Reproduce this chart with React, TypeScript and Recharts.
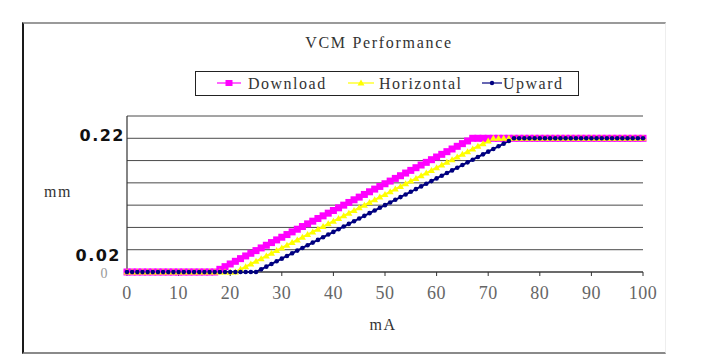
import React from "react";
import { LineChart, Line, XAxis, YAxis, CartesianGrid } from "recharts";

const mA = [
  0, 1, 2, 3, 4, 5, 6, 7, 8, 9, 10, 11, 12, 13, 14, 15, 16, 17, 18, 19, 20,
  21, 22, 23, 24, 25, 26, 27, 28, 29, 30, 31, 32, 33, 34, 35, 36, 37, 38, 39, 40,
  41, 42, 43, 44, 45, 46, 47, 48, 49, 50, 51, 52, 53, 54, 55, 56, 57, 58, 59, 60,
  61, 62, 63, 64, 65, 66, 67, 68, 69, 70, 71, 72, 73, 74, 75, 76, 77, 78, 79, 80,
  81, 82, 83, 84, 85, 86, 87, 88, 89, 90, 91, 92, 93, 94, 95, 96, 97, 98, 99, 100,
];

const download = [
  0, 0, 0, 0, 0, 0, 0, 0, 0, 0,
  0, 0, 0, 0, 0, 0, 0, 0,
  0.0044, 0.0088, 0.0132, 0.0176, 0.022, 0.0264, 0.0308, 0.0352, 0.0396, 0.044,
  0.0484, 0.0528, 0.0572, 0.0616, 0.066, 0.0704, 0.0748, 0.0792, 0.0836, 0.088,
  0.0924, 0.0968, 0.1012, 0.1056, 0.11, 0.1144, 0.1188, 0.1232, 0.1276, 0.132,
  0.1364, 0.1408, 0.1452, 0.1496, 0.154, 0.1584, 0.1628, 0.1672, 0.1716, 0.176,
  0.1804, 0.1848, 0.1892, 0.1936, 0.198, 0.2024, 0.2068, 0.2112, 0.2156, 0.22,
  0.22, 0.22, 0.22, 0.22, 0.22, 0.22, 0.22, 0.22, 0.22, 0.22,
  0.22, 0.22, 0.22, 0.22, 0.22, 0.22, 0.22, 0.22, 0.22, 0.22,
  0.22, 0.22, 0.22, 0.22, 0.22, 0.22, 0.22, 0.22, 0.22, 0.22,
  0.22, 0.22, 0.22,
];

const horizontal = [
  0, 0, 0, 0, 0, 0, 0, 0, 0, 0,
  0, 0, 0, 0, 0, 0, 0, 0, 0, 0,
  0, 0,
  0.0044, 0.0088, 0.0132, 0.0176, 0.022, 0.0264, 0.0308, 0.0352, 0.0396, 0.044,
  0.0484, 0.0528, 0.0572, 0.0616, 0.066, 0.0704, 0.0748, 0.0792, 0.0836, 0.088,
  0.0924, 0.0968, 0.1012, 0.1056, 0.11, 0.1144, 0.1188, 0.1232, 0.1276, 0.132,
  0.1364, 0.1408, 0.1452, 0.1496, 0.154, 0.1584, 0.1628, 0.1672, 0.1716, 0.176,
  0.1804, 0.1848, 0.1892, 0.1936, 0.198, 0.2024, 0.2068, 0.2112, 0.2156, 0.22,
  0.22, 0.22, 0.22, 0.22, 0.22, 0.22, 0.22, 0.22, 0.22, 0.22,
  0.22, 0.22, 0.22, 0.22, 0.22, 0.22, 0.22, 0.22, 0.22, 0.22,
  0.22, 0.22, 0.22, 0.22, 0.22, 0.22, 0.22, 0.22, 0.22,
];

const upward = [
  0, 0, 0, 0, 0, 0, 0, 0, 0, 0,
  0, 0, 0, 0, 0, 0, 0, 0, 0, 0,
  0, 0, 0, 0, 0, 0,
  0.0044, 0.0088, 0.0132, 0.0176, 0.022, 0.0264, 0.0308, 0.0352, 0.0396, 0.044,
  0.0484, 0.0528, 0.0572, 0.0616, 0.066, 0.0704, 0.0748, 0.0792, 0.0836, 0.088,
  0.0924, 0.0968, 0.1012, 0.1056, 0.11, 0.1144, 0.1188, 0.1232, 0.1276, 0.132,
  0.1364, 0.1408, 0.1452, 0.1496, 0.154, 0.1584, 0.1628, 0.1672, 0.1716, 0.176,
  0.1804, 0.1848, 0.1892, 0.1936, 0.198, 0.2024, 0.2068, 0.2112, 0.2156, 0.22,
  0.22, 0.22, 0.22, 0.22, 0.22, 0.22, 0.22, 0.22, 0.22, 0.22,
  0.22, 0.22, 0.22, 0.22, 0.22, 0.22, 0.22, 0.22, 0.22, 0.22,
  0.22, 0.22, 0.22, 0.22, 0.22,
];

const xTicks = [0, 10, 20, 30, 40, 50, 60, 70, 80, 90, 100];
const yTicks = [0, 0.03667, 0.07333, 0.11, 0.14667, 0.18333, 0.22];
const yTickLabels = ["0", "0.02", "", "", "", "", "0.22"];
const yMax = 0.25667;

const seriesNames = ["Download", "Horizontal", "Upward"];
const seriesColors = ["#ff00ff", "#ffff00", "#000080"];

const data = mA.map((x, i) => ({
  mA: x,
  download: download[i],
  horizontal: horizontal[i],
  upward: upward[i],
}));

const SERIF = "'Liberation Serif', 'DejaVu Serif', serif";

const SquareDot = (props: any) => {
  const { cx, cy } = props;
  if (cx == null || cy == null) return <g />;
  return <rect x={cx - 3.5} y={cy - 3.5} width={7} height={7} fill="#ff00ff" />;
};
const TriDot = (props: any) => {
  const { cx, cy } = props;
  if (cx == null || cy == null) return <g />;
  return (
    <polygon
      points={`${cx},${cy - 3.5} ${cx - 3.5},${cy + 2.5} ${cx + 3.5},${cy + 2.5}`}
      fill="#ffff00"
    />
  );
};
const CircleDot = (props: any) => {
  const { cx, cy } = props;
  if (cx == null || cy == null) return <g />;
  return <circle cx={cx} cy={cy} r={2.3} fill="#000080" />;
};

const XTick = (props: any) => {
  const { x, y, payload } = props;
  return (
    <text x={x} y={y} dy={21} textAnchor="middle" fontFamily={SERIF} fontSize={18} letterSpacing={0.5} fill="#666">
      {payload.value}
    </text>
  );
};

const YTick = (props: any) => {
  const { x, y, payload } = props;
  const i = yTicks.indexOf(payload.value);
  const label = yTickLabels[i];
  if (!label) return <g />;
  if (i === 0) {
    return (
      <text x={x - 23} y={y} dy={6} textAnchor="middle" fontFamily={SERIF} fontSize={14} fill="#999">
        {label}
      </text>
    );
  }
  const dy = i === 1 ? 5 : -3;
  const dx = i === 1 ? -6 : -2;
  return (
    <text x={x + dx} y={y + dy} dy={6} textAnchor="end" fontFamily="'DejaVu Sans', sans-serif" fontWeight="bold" fontSize={16} letterSpacing={1.5} fill="#111">
      {label}
    </text>
  );
};

const LegendMarker = ({ idx, width }: { idx: number; width: number }) => {
  const c = seriesColors[idx];
  const m = width / 2;
  return (
    <svg width={width} height={12} style={{ display: "block" }}>
      <line x1={0} y1={6} x2={width} y2={6} stroke={c} strokeWidth={1.2} />
      {idx === 0 && <rect x={m - 3.5} y={3} width={7} height={6} fill={c} />}
      {idx === 1 && <polygon points={`${m},2.5 ${m - 3.5},8.5 ${m + 3.5},8.5`} fill={c} />}
      {idx === 2 && <circle cx={m} cy={6} r={2.2} fill={c} />}
    </svg>
  );
};

const markerLeft = [217, 348, 482];
const markerWidth = [24, 26, 20];
const textLeft = [248, 379, 503];

export default function App() {
  return (
    <div style={{ position: "absolute", left: 0, top: 0, width: 722, height: 359, background: "#fff", overflow: "hidden" }}>
      <div
        style={{
          position: "absolute",
          left: 22,
          top: 22,
          width: 641,
          height: 328,
          borderLeft: "2px solid #1a1a1a",
          borderTop: "2px solid #9a9a9a",
          borderBottom: "2px solid #8a8a8a",
          borderRight: "1px solid #eeeeee",
        }}
      />
      <div
        style={{
          position: "absolute",
          left: 229,
          top: 33,
          width: 300,
          textAlign: "center",
          fontFamily: SERIF,
          fontSize: 16,
          letterSpacing: 1.7,
          lineHeight: "20px",
          color: "#333",
        }}
      >
        VCM Performance
      </div>
      <div
        style={{
          position: "absolute",
          left: 195,
          top: 71,
          width: 382,
          height: 23,
          border: "1px solid #222",
        }}
      />
      {seriesNames.map((name, i) => (
        <React.Fragment key={name}>
          <div style={{ position: "absolute", left: markerLeft[i], top: 77 }}>
            <LegendMarker idx={i} width={markerWidth[i]} />
          </div>
          <div
            style={{
              position: "absolute",
              left: textLeft[i],
              top: 74,
              fontFamily: SERIF,
              fontSize: 16,
              letterSpacing: 1.5,
              lineHeight: "20px",
              color: "#333",
              whiteSpace: "nowrap",
            }}
          >
            {name}
          </div>
        </React.Fragment>
      ))}
      <div style={{ position: "absolute", left: 44, top: 182, fontFamily: SERIF, fontSize: 16, letterSpacing: 1.5, lineHeight: "20px", color: "#333" }}>mm</div>
      <div style={{ position: "absolute", left: 333, top: 315, width: 100, textAlign: "center", fontFamily: SERIF, fontSize: 16, letterSpacing: 1.5, lineHeight: "20px", color: "#333" }}>mA</div>
      <div style={{ position: "absolute", left: 0, top: 0 }}>
        <LineChart
          width={722}
          height={359}
          data={data}
          margin={{ top: 116, right: 79, bottom: 57, left: 67 }}
        >
          <CartesianGrid horizontal vertical={false} stroke="#4a4a4a" strokeWidth={1} />
          <XAxis
            dataKey="mA"
            type="number"
            domain={[0, 100]}
            ticks={xTicks}
            interval={0}
            height={30}
            tickSize={4}
            tickMargin={2}
            axisLine={{ stroke: "#333", strokeWidth: 1.2 }}
            tickLine={{ stroke: "#333" }}
            tick={<XTick />}
          />
          <YAxis
            type="number"
            domain={[0, yMax]}
            ticks={yTicks}
            interval={0}
            width={60}
            tickSize={0}
            tickMargin={0}
            tickLine={false}
            axisLine={{ stroke: "#333", strokeWidth: 1.2 }}
            tick={<YTick />}
          />
          <Line
            dataKey="download"
            stroke="#ff00ff"
            strokeWidth={2}
            dot={<SquareDot />}
            isAnimationActive={false}
          />
          <Line
            dataKey="horizontal"
            stroke="#ffff00"
            strokeWidth={2}
            dot={<TriDot />}
            isAnimationActive={false}
          />
          <Line
            dataKey="upward"
            stroke="#000080"
            strokeWidth={2}
            dot={<CircleDot />}
            isAnimationActive={false}
          />
        </LineChart>
      </div>
    </div>
  );
}
